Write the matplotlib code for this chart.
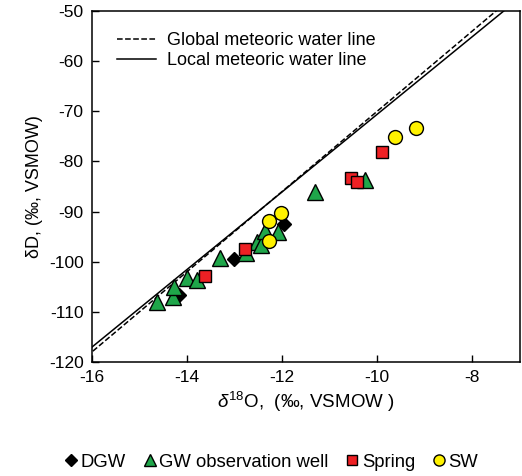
import numpy as np
import matplotlib
matplotlib.use("Agg")
import matplotlib.pyplot as plt
from matplotlib.lines import Line2D

plt.rcParams['font.family'] = ['Liberation Sans', 'DejaVu Sans']
plt.rcParams['mathtext.fontset'] = 'custom'
plt.rcParams['mathtext.rm'] = 'Liberation Sans'
plt.rcParams['mathtext.it'] = 'Liberation Sans:italic'
plt.rcParams['axes.unicode_minus'] = False

# sample values (d18O, dD)
dgw_o = [-14.16, -13.02, -11.95]
dgw_d = [-106.6, -99.4, -92.4]

gw_o = [-14.63, -14.30, -14.27, -13.99, -13.78, -13.30, -12.75, -12.52, -12.45,
        -12.35, -12.08, -11.30, -10.26]
gw_d = [-108.0, -107.0, -105.0, -103.2, -103.6, -99.2, -98.2, -96.0, -96.6,
        -93.8, -94.0, -86.2, -83.8]

spring_o = [-13.63, -12.79, -10.55, -10.42, -9.90]
spring_d = [-102.8, -97.4, -83.4, -84.2, -78.2]

sw_o = [-12.27, -12.27, -12.02, -9.63, -9.19]
sw_d = [-95.8, -91.8, -90.2, -75.2, -73.4]

# meteoric water lines: dD = slope * d18O + intercept
gmwl = (8.0, 10.0)
lmwl = (7.74, 6.8)

x_ticks = [-16, -14, -12, -10, -8]
y_ticks = [-120, -110, -100, -90, -80, -70, -60, -50]

fig = plt.figure(figsize=(5.22, 4.76), dpi=100)
ax = fig.add_axes([0.176, 0.2395, 0.82, 0.7375])

xs = np.array([-16.5, -6.5])
ax.plot(xs, gmwl[0] * xs + gmwl[1], 'k--', lw=1.1, label='Global meteoric water line')
ax.plot(xs, lmwl[0] * xs + lmwl[1], 'k-', lw=1.1, label='Local meteoric water line')

ax.plot(dgw_o, dgw_d, 'D', ms=7, mfc='black', mec='black', ls='none', zorder=3)
ax.plot(gw_o, gw_d, '^', ms=11, mfc='#1fa64a', mec='black', mew=1.0, ls='none', zorder=4)
ax.plot(spring_o, spring_d, 's', ms=9, mfc='#ee2024', mec='black', mew=1.0, ls='none', zorder=5)
ax.plot(sw_o, sw_d, 'o', ms=10, mfc='#fff200', mec='black', mew=1.0, ls='none', zorder=6)

ax.set_xlim(-16, -7)
ax.set_ylim(-120, -50)
ax.set_xticks(x_ticks)
ax.set_yticks(y_ticks)
ax.tick_params(direction='in', length=5, width=1, labelsize=12.5, pad=6)
for s in ax.spines.values():
    s.set_linewidth(1.1)

ax.set_xlabel(r'$\mathit{\delta}^{18}$O,  (‰, VSMOW )', fontsize=13.5, labelpad=3)
ax.set_ylabel('δD, (‰, VSMOW)', fontsize=13, labelpad=4)

ax.legend(loc='upper left', frameon=False, fontsize=13, handlelength=2.2,
          borderaxespad=0.5, labelspacing=0.15, handletextpad=0.6,
          bbox_to_anchor=(0.02, 0.985))

handles = [
    Line2D([], [], marker='D', ls='none', ms=6, mfc='black', mec='black'),
    Line2D([], [], marker='^', ls='none', ms=8, mfc='#1fa64a', mec='black'),
    Line2D([], [], marker='s', ls='none', ms=7.5, mfc='#ee2024', mec='black'),
    Line2D([], [], marker='o', ls='none', ms=8, mfc='#fff200', mec='black'),
]
fig.legend(handles, ['DGW', 'GW observation well', 'Spring', 'SW'],
           loc='center', bbox_to_anchor=(0.52, 0.029), ncol=4, frameon=False,
           fontsize=13.3, handlelength=0.7, handletextpad=0.15, columnspacing=0.95)

fig.savefig('out.png', dpi=100)
